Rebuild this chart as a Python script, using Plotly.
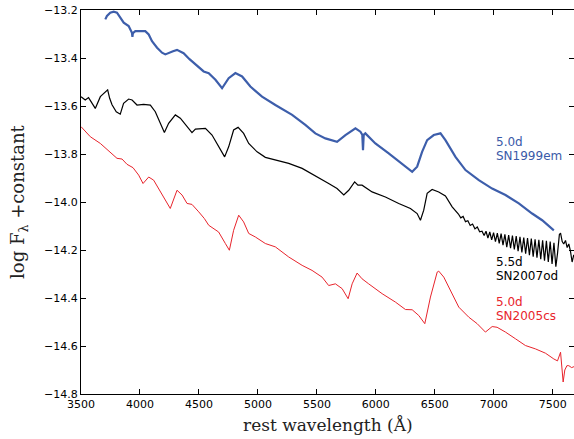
import plotly.graph_objects as go

# ---- data (rest wavelength in Angstrom, log flux + constant) ----
sn1999em_wave = [3706, 3720, 3748, 3777, 3805, 3833, 3862, 3904, 3932, 3936, 3940, 3961, 4003, 4045,
                 4074, 4102, 4145, 4187, 4215, 4243, 4280, 4314, 4340, 4370, 4420, 4470, 4540, 4583,
                 4640, 4696, 4752, 4809, 4866, 4936, 5035, 5148, 5290, 5402, 5487, 5572, 5671, 5742,
                 5827, 5869, 5885, 5891, 5897, 5911, 5996, 6109, 6222, 6308, 6350, 6392, 6435, 6491,
                 6548, 6590, 6675, 6760, 6873, 6986, 7099, 7212, 7325, 7410, 7509]
sn1999em_flux = [-13.239, -13.225, -13.211, -13.207, -13.211, -13.232, -13.253, -13.267, -13.295, -13.312,
                 -13.296, -13.288, -13.288, -13.288, -13.302, -13.330, -13.357, -13.378, -13.385, -13.378,
                 -13.372, -13.366, -13.372, -13.380, -13.405, -13.428, -13.456, -13.463, -13.491, -13.526,
                 -13.484, -13.463, -13.477, -13.519, -13.561, -13.596, -13.637, -13.679, -13.714, -13.735,
                 -13.749, -13.721, -13.693, -13.707, -13.720, -13.784, -13.720, -13.714, -13.756, -13.797,
                 -13.839, -13.874, -13.853, -13.791, -13.742, -13.721, -13.714, -13.742, -13.812, -13.867,
                 -13.909, -13.944, -13.971, -14.006, -14.048, -14.076, -14.118]

sn2007od_wave = [3500, 3536, 3564, 3621, 3664, 3706, 3726, 3743, 3763, 3799, 3833, 3861, 3904, 3933,
                 3975, 4031, 4088, 4130, 4173, 4207, 4243, 4300, 4342, 4399, 4441, 4470, 4555, 4611,
                 4667, 4718, 4752, 4794, 4832, 4879, 4922, 4993, 5063, 5176, 5261, 5375, 5487, 5600,
                 5671, 5728, 5770, 5820, 5848, 5883, 5968, 6081, 6194, 6293, 6350, 6378, 6406, 6435,
                 6477, 6533, 6590, 6647, 6700, 6720, 6740, 6760, 6780, 6800, 6820, 6840, 6860, 6880, 6900,
                 6918, 6934, 6950, 6966, 6982, 6998, 7014, 7030, 7046, 7062, 7078, 7094, 7110, 7126,
                 7142, 7158, 7174, 7190, 7206, 7222, 7238, 7254, 7270, 7286, 7302, 7318, 7334, 7350,
                 7366, 7382, 7398, 7414, 7430, 7446, 7462, 7478, 7494, 7510, 7526, 7540, 7556, 7566,
                 7580, 7593, 7608, 7622, 7636, 7650, 7664, 7678]
sn2007od_flux = [-13.561, -13.575, -13.565, -13.610, -13.561, -13.542, -13.533, -13.568, -13.595, -13.624,
                 -13.634, -13.589, -13.571, -13.575, -13.596, -13.593, -13.596, -13.624, -13.672, -13.710,
                 -13.672, -13.637, -13.651, -13.686, -13.711, -13.696, -13.693, -13.721, -13.770, -13.812,
                 -13.770, -13.700, -13.689, -13.714, -13.756, -13.791, -13.814, -13.828, -13.839, -13.860,
                 -13.890, -13.923, -13.944, -13.971, -13.951, -13.916, -13.930, -13.930, -13.958, -13.979,
                 -14.006, -14.027, -14.048, -14.076, -14.034, -13.964, -13.948, -13.958, -13.975, -14.020,
                 -14.050, -14.066, -14.060, -14.082, -14.078, -14.098, -14.092, -14.112, -14.104, -14.124, -14.122,
                 -14.140, -14.122, -14.150, -14.125, -14.158, -14.128, -14.165, -14.130, -14.172, -14.132,
                 -14.180, -14.135, -14.188, -14.138, -14.192, -14.140, -14.198, -14.142, -14.205, -14.145,
                 -14.210, -14.148, -14.215, -14.150, -14.222, -14.152, -14.228, -14.155, -14.232, -14.158,
                 -14.238, -14.160, -14.245, -14.162, -14.250, -14.165, -14.258, -14.170, -14.270, -14.215,
                 -14.135, -14.130, -14.165, -14.175, -14.160, -14.190, -14.175, -14.205, -14.250, -14.220]

sn2005cs_wave = [3500, 3579, 3664, 3749, 3805, 3848, 3890, 3941, 3989, 4026, 4074, 4116, 4187, 4257,
                 4314, 4357, 4399, 4441, 4498, 4546, 4583, 4667, 4724, 4758, 4794, 4837, 4879, 4922,
                 4979, 5063, 5148, 5261, 5375, 5459, 5544, 5600, 5657, 5714, 5765, 5799, 5841, 5883,
                 5939, 6053, 6166, 6251, 6308, 6364, 6415, 6463, 6520, 6533, 6576, 6618, 6703, 6788,
                 6859, 6929, 6986, 7028, 7099, 7184, 7268, 7353, 7438, 7509, 7540, 7566, 7578, 7588,
                 7602, 7620, 7636, 7660, 7680]
sn2005cs_flux = [-13.686, -13.728, -13.756, -13.791, -13.818, -13.821, -13.843, -13.857, -13.888, -13.923,
                 -13.896, -13.909, -13.971, -14.027, -13.951, -13.971, -14.006, -14.010, -14.041, -14.069,
                 -14.097, -14.125, -14.173, -14.201, -14.118, -14.055, -14.083, -14.131, -14.146, -14.173,
                 -14.187, -14.229, -14.264, -14.285, -14.313, -14.348, -14.341, -14.361, -14.403, -14.341,
                 -14.296, -14.320, -14.341, -14.382, -14.417, -14.448, -14.449, -14.473, -14.507, -14.396,
                 -14.292, -14.288, -14.313, -14.355, -14.438, -14.480, -14.507, -14.542, -14.519, -14.522,
                 -14.542, -14.570, -14.598, -14.612, -14.630, -14.654, -14.662, -14.626, -14.680, -14.750,
                 -14.700, -14.682, -14.682, -14.690, -14.686]

labels = [
    {"text": ["5.0d", "SN1999em"], "y": [-13.748, -13.807], "color": "#3a5aa8"},
    {"text": ["5.5d", "SN2007od"], "y": [-14.248, -14.307], "color": "#000000"},
    {"text": ["5.0d", "SN2005cs"], "y": [-14.418, -14.477], "color": "#e8242c"},
]
label_x = 7000

x_ticks = [3500, 4000, 4500, 5000, 5500, 6000, 6500, 7000, 7500]
y_ticks = [-14.8, -14.6, -14.4, -14.2, -14.0, -13.8, -13.6, -13.4, -13.2]

fig = go.Figure()
fig.add_trace(go.Scatter(x=sn1999em_wave, y=sn1999em_flux, mode="lines",
                         line=dict(color="#3d5eab", width=2.2), showlegend=False))
fig.add_trace(go.Scatter(x=sn2007od_wave, y=sn2007od_flux, mode="lines",
                         line=dict(color="#000000", width=1.2), showlegend=False))
fig.add_trace(go.Scatter(x=sn2005cs_wave, y=sn2005cs_flux, mode="lines",
                         line=dict(color="#e8242c", width=1), showlegend=False))

annotations = []
for lab in labels:
    for t, yy in zip(lab["text"], lab["y"]):
        annotations.append(dict(x=label_x, y=yy, xref="x", yref="y", text=t, showarrow=False,
                                xanchor="left", yanchor="middle",
                                font=dict(family="DejaVu Sans", size=12, color=lab["color"])))

annotations.append(dict(x=0.5, y=-0.082, xref="paper", yref="paper", text="rest wavelength (Å)",
                        showarrow=False, xanchor="center", yanchor="middle",
                        font=dict(family="DejaVu Serif", size=17, color="#222222")))
annotations.append(dict(x=-0.126, y=0.5, xref="paper", yref="paper",
                        text="log F<sub>λ</sub> +constant", textangle=-90,
                        showarrow=False, xanchor="center", yanchor="middle",
                        font=dict(family="DejaVu Serif", size=18, color="#222222")))

axis_common = dict(showline=True, linecolor="black", linewidth=1, mirror="ticks",
                   ticks="inside", ticklen=5, tickcolor="black", showgrid=False, zeroline=False,
                   tickfont=dict(family="DejaVu Sans", size=11, color="black"))

fig.update_layout(
    width=574, height=439,
    margin=dict(l=81, r=0, t=10, b=45),
    paper_bgcolor="white", plot_bgcolor="white",
    xaxis=dict(range=[3500, 7680], tickvals=x_ticks, **axis_common),
    yaxis=dict(range=[-14.8, -13.2], tickvals=y_ticks, tickformat=".1f", **axis_common),
    annotations=annotations,
)

fig.write_html("out.html")
